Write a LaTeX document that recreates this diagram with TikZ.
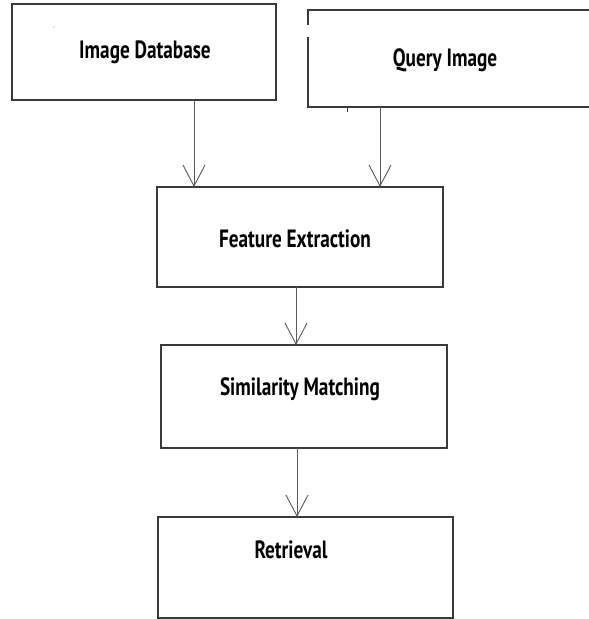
\documentclass[tikz,border=0pt]{standalone}
\usepackage{fontspec}
\newfontfamily\lblfont[FakeStretch=0.77]{PT Sans}
\usetikzlibrary{arrows.meta}
\definecolor{boxc}{HTML}{3A3A3A}
\definecolor{arrc}{HTML}{5A5A5A}
\begin{document}
\begin{tikzpicture}[x=1pt,y=-1pt]
\tikzset{
  box/.style={draw=boxc, line width=1.4pt, inner sep=0pt, outer sep=0pt},
  lbl/.style={font=\lblfont\bfseries\fontsize{25}{29}\selectfont, inner sep=0pt, text=black, anchor=base},
  arr/.style={draw=arrc, line width=0.9pt, -{Straight Barb[length=21pt,width=22pt,line width=0.9pt]}}
}
\useasboundingbox (0,0) rectangle (589,619);
\begin{scope}
\clip (0,0) rectangle (589,619);
\node[box, minimum width=264pt, minimum height=96pt] (idb) at (144,52) {};
\node[box, minimum width=292pt, minimum height=97pt] (qry) at (454,58.5) {};
\node[box, minimum width=286pt, minimum height=100pt] (fe) at (300,237) {};
\node[box, minimum width=286pt, minimum height=103pt] (sm) at (304,396.5) {};
\node[box, minimum width=295pt, minimum height=101pt] (ret) at (305.5,567.5) {};
\end{scope}
% small artefacts of the original
\draw[white, line width=3pt] (308,25) -- (308,37);
\draw[boxc, line width=1pt] (347,107) -- (347,112);
\fill[gray] (54,27) circle (0.6pt);
% labels
\node[lbl] (idbt) at (145,58) {Image Database};
\node[lbl] (qryt) at (445,66.5) {Query Image};
\node[lbl] (fet) at (295,247) {Feature Extraction};
\node[lbl] (smt) at (300,395) {Similarity Matching};
\node[lbl] (rett) at (291,558) {Retrieval};
% connectors
\coordinate (x1) at (194,0);
\coordinate (x2) at (380,0);
\coordinate (x3) at (296,0);
\coordinate (x4) at (297,0);
\draw[arr] (idb.south -| x1) -- (fe.north -| x1);
\draw[arr] (qry.south -| x2) -- (fe.north -| x2);
\draw[arr] (fe.south -| x3) -- (sm.north -| x3);
\draw[arr] (sm.south -| x4) -- (ret.north -| x4);
\end{tikzpicture}
\end{document}
